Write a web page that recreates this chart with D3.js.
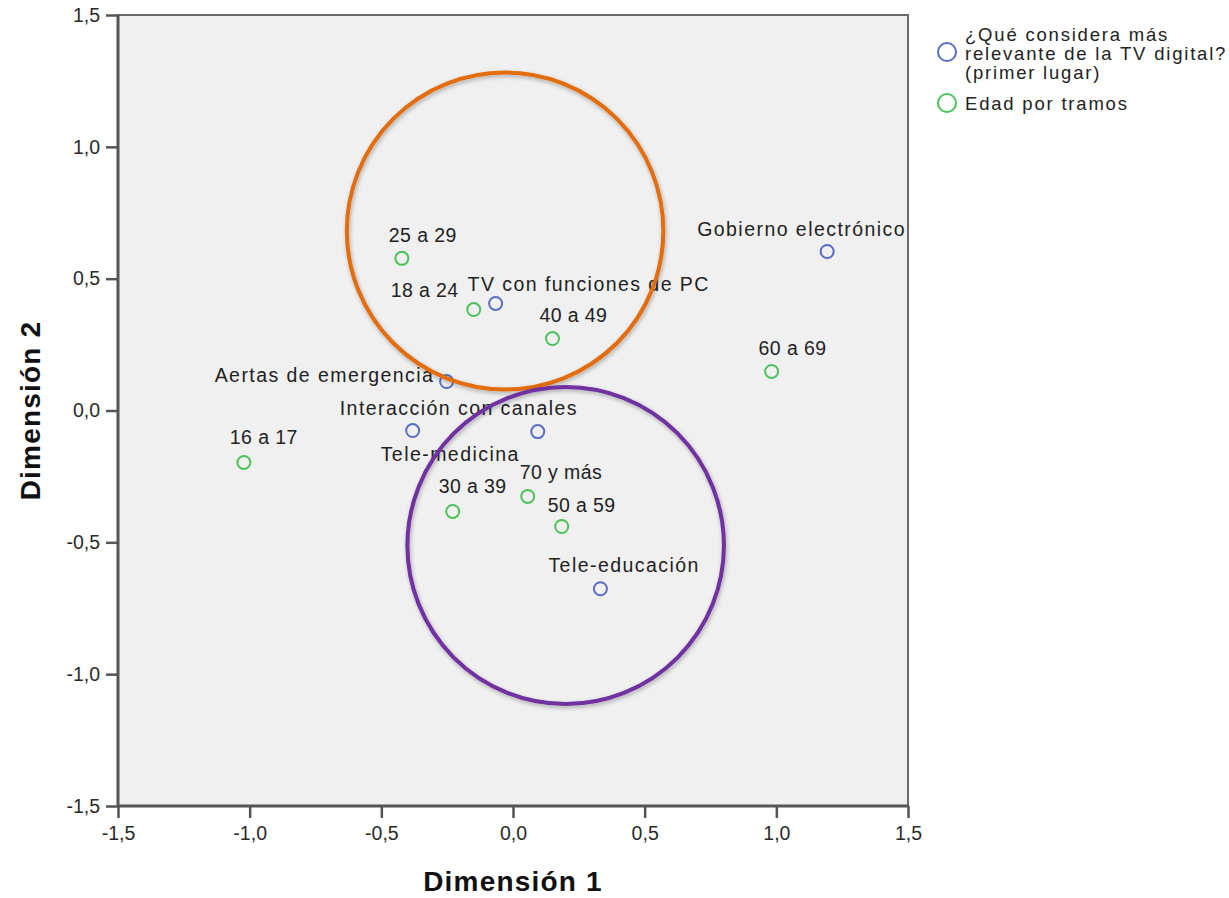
<!DOCTYPE html>
<html><head><meta charset="utf-8">
<script src="https://cdn.jsdelivr.net/npm/d3@7"></script>
<style>
body{margin:0;background:#fff;}
text{font-family:"Liberation Sans",Arial,sans-serif;}
</style></head>
<body><svg id="chart" width="1229" height="898"></svg>
<script>
// Data
const seriesNames = ["¿Qué considera más relevante de la TV digital? (primer lugar)", "Edad por tramos"];
const seriesColors = ["#5a6cc6", "#4cc25a"];
const tvLabels = ["TV con funciones de PC","Gobierno electrónico","Aertas de emergencia","Interacción con canales","Tele-medicina","Tele-educación"];
const tvX = [-0.066, 1.193, -0.252, 0.094, -0.381, 0.332];
const tvY = [0.406, 0.603, 0.110, -0.080, -0.076, -0.676];
const ageLabels = ["25 a 29","18 a 24","40 a 49","60 a 69","16 a 17","30 a 39","70 y más","50 a 59"];
const ageX = [-0.422, -0.149, 0.150, 0.982, -1.022, -0.229, 0.056, 0.185];
const ageY = [0.577, 0.383, 0.273, 0.148, -0.197, -0.383, -0.326, -0.440];
const ticks = [-1.5,-1.0,-0.5,0.0,0.5,1.0,1.5];
// highlight circles (data units): cx, cy, r
const ringCX = [-0.03, 0.20];
const ringCY = [0.681, -0.512];
const ringR = [0.601, 0.601];
const ringColors = ["#e36c0a", "#7030a0"];
// label offsets (px) relative to point
const tvDx = [-28, -130, -232, -198, -32, -52];
const tvDy = [-12, -16, 1, -17, 30, -17];
const ageDx = [-13, -83, -13, -13, -14, -14, -8, -14];
const ageDy = [-16, -13, -17, -16, -18, -18, -17, -15];

const svg = d3.select("#chart");
const L = 118, R = 908, T = 15, B = 806;
const x = d3.scaleLinear().domain([-1.5,1.5]).range([L,R]);
const y = d3.scaleLinear().domain([-1.5,1.5]).range([B,T]);
const fmt = d => d3.format(".1f")(d).replace(".", ",").replace("−","-");

svg.append("rect").attr("x",L).attr("y",T).attr("width",R-L).attr("height",B-T)
  .attr("fill","#f0f0f0").attr("stroke","#6a6a6a").attr("stroke-width",2);

const gx = svg.append("g").attr("transform",`translate(0,${B})`)
  .call(d3.axisBottom(x).tickValues(ticks).tickFormat(fmt).tickSize(12).tickPadding(8));
const gy = svg.append("g").attr("transform",`translate(${L},0)`)
  .call(d3.axisLeft(y).tickValues(ticks).tickFormat(fmt).tickSize(12).tickPadding(6));
[gx,gy].forEach(g=>{
  g.select(".domain").attr("stroke","#555").attr("stroke-width",3);
  g.selectAll(".tick line").attr("stroke","#555").attr("stroke-width",2.5);
  g.selectAll(".tick text").attr("fill","#2a2a2a").style("font-size","19.5px").style("font-family","'Liberation Sans',Arial,sans-serif");
});
gy.select(".domain").attr("d",`M0,${T}V${B}`);
gx.select(".domain").attr("d",`M${L},0H${R}`);

// axis titles
svg.append("text").attr("x",(L+R)/2).attr("y",891).attr("text-anchor","middle")
  .attr("font-weight","bold").attr("font-size","28px").attr("letter-spacing","1.2px").attr("fill","#111").text("Dimensión 1");
svg.append("text").attr("transform",`translate(40,${(T+B)/2}) rotate(-90)`).attr("text-anchor","middle")
  .attr("font-weight","bold").attr("font-size","28px").attr("letter-spacing","1.2px").attr("fill","#111").text("Dimensión 2");

svg.append("clipPath").attr("id","clip").append("rect").attr("x",L).attr("y",T).attr("width",R-L).attr("height",B-T);
const plot = svg.append("g").attr("clip-path","url(#clip)");

const defs = svg.append("defs");
const f = defs.append("filter").attr("id","shadow").attr("x","-20%").attr("y","-20%").attr("width","140%").attr("height","140%");
f.append("feDropShadow").attr("dx",1).attr("dy",2).attr("stdDeviation",2).attr("flood-color","#000").attr("flood-opacity",0.3);

function drawSeries(labels, xs, ys, dxs, dys, color, ls){
  const data = labels.map((l,i)=>({l, x:xs[i], y:ys[i], dx:dxs[i], dy:dys[i]}));
  plot.selectAll(null).data(data).enter().append("circle")
    .attr("cx",d=>x(d.x)).attr("cy",d=>y(d.y)).attr("r",6.5)
    .attr("fill","none").attr("stroke",color).attr("stroke-width",2);
  plot.selectAll(null).data(data).enter().append("text")
    .attr("x",d=>x(d.x)+d.dx).attr("y",d=>y(d.y)+d.dy)
    .attr("font-size","19.5px").attr("fill","#222").attr("letter-spacing",ls).text(d=>d.l);
}
drawSeries(tvLabels, tvX, tvY, tvDx, tvDy, seriesColors[0], "1.45px");
drawSeries(ageLabels, ageX, ageY, ageDx, ageDy, seriesColors[1], "0.4px");

// rings
ringCX.forEach((c,i)=>{
  plot.append("ellipse").attr("cx",x(c)).attr("cy",y(ringCY[i]))
    .attr("rx",x(ringR[i])-x(0)).attr("ry",y(0)-y(ringR[i]))
    .attr("fill","none").attr("stroke",ringColors[i]).attr("stroke-width",4).attr("filter","url(#shadow)");
});

// legend
const leg = svg.append("g");
const legLines = [["¿Qué considera más","relevante de la TV digital?","(primer lugar)"],["Edad por tramos"]];
const legCircleY = [52, 103];
const legTextY = [40.5, 110];
legLines.forEach((lines,i)=>{
  leg.append("circle").attr("cx",947).attr("cy",legCircleY[i]).attr("r",9)
    .attr("fill","none").attr("stroke",seriesColors[i]).attr("stroke-width",2);
  lines.forEach((t,j)=>{
    leg.append("text").attr("x",965).attr("y",legTextY[i]+j*19)
      .attr("font-size","18.5px").attr("fill","#222").attr("letter-spacing","1.8px").text(t);
  });
});
</script></body></html>
